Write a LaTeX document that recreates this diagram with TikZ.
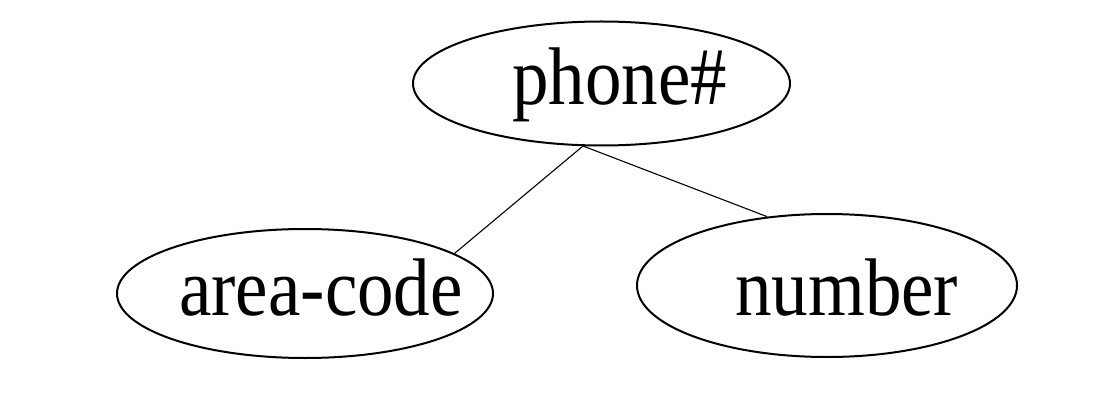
\documentclass[tikz,border=0pt]{standalone}
\usepackage{fontspec}
\setmainfont{Liberation Serif}
\usetikzlibrary{shapes.geometric}
\begin{document}
\begin{tikzpicture}[x=1pt,y=1pt,
  attr/.style={draw, ellipse, line width=2pt, inner sep=0pt},
  lbl/.style={anchor=base west, inner sep=0pt, yscale=1.12, transform shape, font=\fontsize{73}{80}\selectfont},
  conn/.style={line width=1.1pt}]
\useasboundingbox (0,0) rectangle (1107,418);
\node[attr, minimum width=377pt, minimum height=124pt] (phone) at (601.5,334.5) {};
\node[attr, minimum width=376pt, minimum height=129pt] (area) at (305,124.5) {};
\node[attr, minimum width=380pt, minimum height=143pt] (number) at (827,132.5) {};
\node[lbl] (phonet) at (512,313) {phone\#};
\node[lbl] (areat) at (179,103) {area-code};
\node[lbl] (numbert) at (735,103) {number};
\coordinate (pb) at (583,272);
\draw[conn] (pb) -- (area.15);
\draw[conn] (pb) -- (number.131.6);
\end{tikzpicture}
\end{document}
